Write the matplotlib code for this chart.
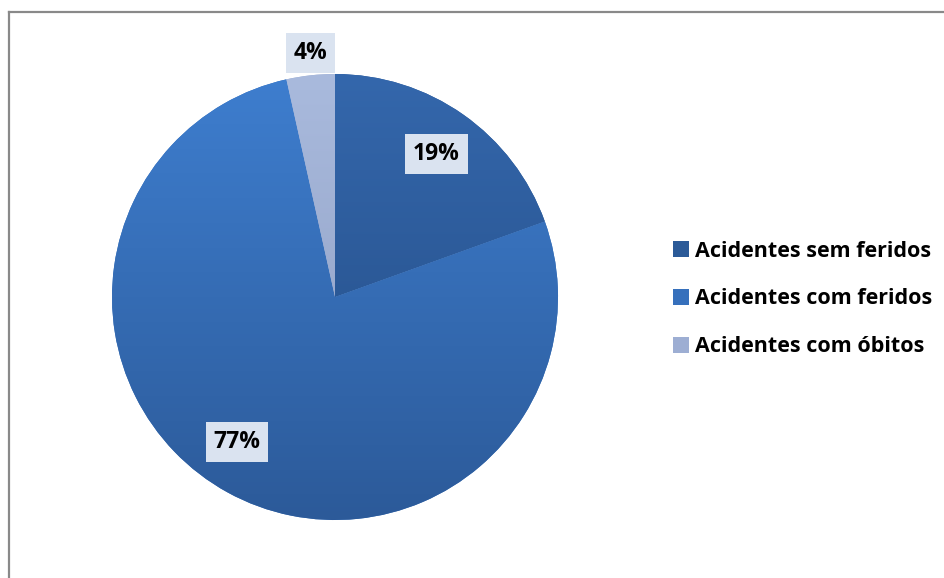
import numpy as np
import matplotlib
matplotlib.use("Agg")
import matplotlib.pyplot as plt
from matplotlib.patches import Patch
from matplotlib.lines import Line2D
from matplotlib.colors import LinearSegmentedColormap

categories = ["Acidentes sem feridos", "Acidentes com feridos", "Acidentes com óbitos"]
values = [19.5, 77.0, 3.5]
pct_labels = ["19%", "77%", "4%"]
top_colors = ["#3467AC", "#3E7ECF", "#A9BADD"]
bottom_colors = ["#234B82", "#2C5A99", "#8C9CC0"]
mid_colors = ["#2B5A98", "#3670BC", "#9DAED3"]
label_pos = [(0.455, 0.64), (-0.44, -0.65), (-0.11, 1.094)]

W, H = 944, 578
fig = plt.figure(figsize=(W / 100, H / 100), dpi=100)
cx, cy, r = 335, 578 - 297, 223
ax = fig.add_axes([(cx - r) / W, (cy - r) / H, 2 * r / W, 2 * r / H])

wedges, _ = ax.pie(values, colors=mid_colors, startangle=90, counterclock=False,
                   radius=1.0, wedgeprops=dict(linewidth=0))
grad = np.linspace(0, 1, 256).reshape(-1, 1)
for w, tc, bc in zip(wedges, top_colors, bottom_colors):
    cmap = LinearSegmentedColormap.from_list("g", [tc, bc])
    im = ax.imshow(grad, cmap=cmap, extent=(-1, 1, -1, 1), origin="upper",
                   aspect="auto", zorder=2)
    im.set_clip_path(w)

for (x, y), t in zip(label_pos, pct_labels):
    ax.text(x, y, t, ha="center", va="center", fontsize=16.5, fontweight="bold",
            family=["Open Sans", "DejaVu Sans"], color="black", zorder=5,
            bbox=dict(boxstyle="square,pad=0.34", fc="#DAE3F0", ec="none"))

ax.set_xlim(-1, 1)
ax.set_ylim(-1, 1)
ax.set_aspect("auto")
ax.axis("off")

handles = [Patch(facecolor=c, edgecolor="none") for c in mid_colors]
fig.legend(handles, categories, loc="center left",
           bbox_to_anchor=(673 / W, 1 - 299 / H), frameon=False,
           prop=dict(family=["Open Sans", "DejaVu Sans"], weight="bold", size=15.5),
           handlelength=0.75, handleheight=0.75, handletextpad=0.28,
           labelspacing=1.24, borderpad=0, borderaxespad=0)

# outer frame (left and top edges visible)
fig.add_artist(Line2D([9 / W, 9 / W], [0, 1 - 12 / H], transform=fig.transFigure,
                      color="#898989", linewidth=1.6))
fig.add_artist(Line2D([9 / W, 1], [1 - 12 / H, 1 - 12 / H], transform=fig.transFigure,
                      color="#898989", linewidth=1.6))

fig.savefig("out.png", dpi=100, facecolor="white")
